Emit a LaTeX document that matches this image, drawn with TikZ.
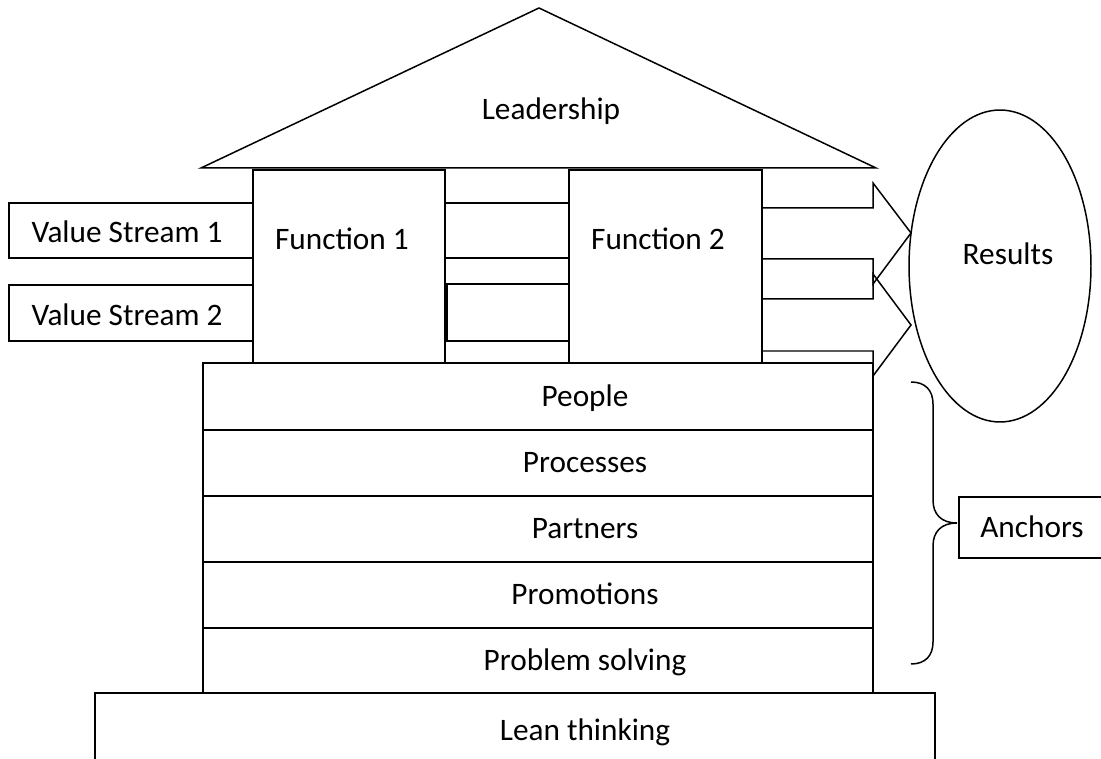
\documentclass[tikz,border=0pt]{standalone}
\usepackage{fontspec}
\setmainfont{Carlito}

\begin{document}
\begin{tikzpicture}[x=0.02cm, y=-0.02cm, line width=0.85pt,
        box/.style={draw, fill=white},
        lbl/.style={font=\fontsize{17.8}{21}\selectfont, inner sep=0pt, anchor=base}]
    \useasboundingbox (0,0) rectangle (1101,759);
    % roof
    \draw[box] (201,168) -- (539,8) -- (876,168) -- cycle;
    % value streams, running behind the functions
    \draw[box] (9,203) rectangle (569,258);
    \draw[box] (9,285) rectangle (253,341);
    \draw[box] (447,284) rectangle (569,341);
    % functions
    \draw[box] (253,170) rectangle (445,363);
    \draw[box] (569,170) rectangle (762,363);
    % results
    \draw (1000,266) ellipse [x radius=1.82cm, y radius=3.12cm];
    \draw (762,208) -- (873,208) -- (873,183) -- (911,233) -- (873,284) -- (873,259) -- (762,259);
    \draw (762,299) -- (873,299) -- (873,274) -- (911,325) -- (873,376) -- (873,351) -- (762,351);
    % pillar
    \draw (203,363) rectangle (873,693);
    \foreach \y in {430,496,562,628}
        \draw (203,\y) -- (873,\y);
    % lean thinking, cut by the page
    \draw (95,759) -- (95,693) -- (935,693) -- (935,759);
    % anchors
    \draw (1102,497) -- (959,497) -- (959,558) -- (1102,558);
    \draw (911,382) .. controls (925,382) and (933,390) .. (933,404) -- (933,500)
        .. controls (933,514) and (941,523) .. (957,523)
        .. controls (941,523) and (933,532) .. (933,546) -- (933,642)
        .. controls (933,656) and (925,664) .. (911,664);
    % labels
    \node[lbl] (lead) at (551,120) {Leadership};
    \node[lbl] (vs1) at (127,243) {Value Stream 1};
    \node[lbl] (vs2) at (127,326) {Value Stream 2};
    \node[lbl] (fun1) at (342,250) {Function 1};
    \node[lbl] (fun2) at (658,250) {Function 2};
    \node[lbl] (res) at (1008,265) {Results};
    \node[lbl] (anc) at (1032,537) {Anchors};
    \node[lbl] (people) at (585,407) {People};
    \node[lbl] (proc) at (585,473) {Processes};
    \node[lbl] (part) at (585,539) {Partners};
    \node[lbl] (promo) at (585,604) {Promotions};
    \node[lbl] (probs) at (585,670) {Problem solving};
    \node[lbl] (lean) at (585,740) {Lean thinking};
\end{tikzpicture}
\end{document}
